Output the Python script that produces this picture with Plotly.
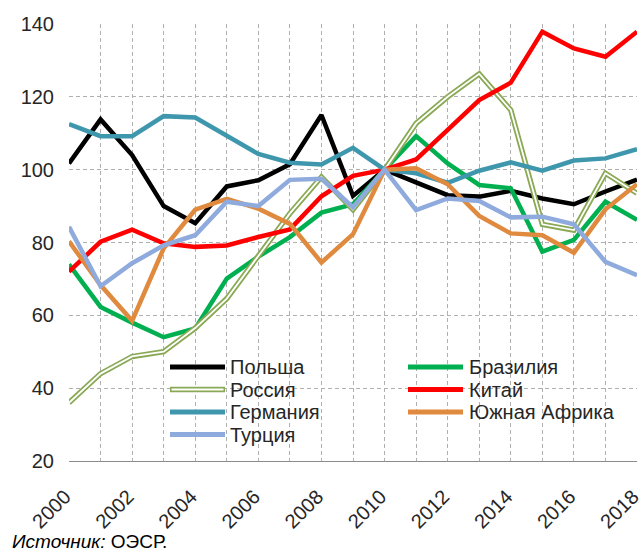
import plotly.graph_objects as go

years = list(range(2000, 2019))

names = ["Польша", "Бразилия", "Россия", "Китай", "Германия", "Южная Африка", "Турция"]

poland = [101.7, 113.8, 104.0, 90.0, 85.3, 95.4, 97.1, 101.5, 115.0, 92.8, 100.0,
          96.4, 93.0, 92.6, 94.2, 92.1, 90.5, 94.0, 97.3]
brazil = [74.0, 62.3, 58.0, 54.0, 56.4, 70.1, 76.1, 81.5, 88.2, 90.5, 100.0,
          109.2, 101.7, 95.8, 94.9, 77.5, 80.7, 91.2, 86.2]
russia = [36.0, 44.0, 48.7, 50.0, 56.5, 64.6, 76.3, 88.0, 98.0, 89.0, 100.0,
          112.7, 120.0, 126.3, 116.4, 85.0, 83.4, 99.0, 93.5]
china = [72.0, 80.2, 83.5, 79.8, 78.8, 79.2, 81.5, 83.6, 92.7, 98.3, 100.0,
         102.8, 110.9, 119.1, 123.9, 137.9, 133.3, 131.0, 137.9]
germany = [112.5, 109.2, 109.2, 114.7, 114.3, 109.3, 104.3, 101.9, 101.4, 106.0, 100.0,
           99.0, 96.4, 99.7, 102.0, 99.7, 102.5, 103.1, 105.6]
safrica = [80.3, 68.3, 58.5, 78.4, 89.0, 92.0, 89.3, 85.1, 74.5, 82.3, 100.0,
           100.4, 96.0, 87.3, 82.5, 82.0, 77.2, 89.1, 96.0]
turkey = [84.3, 68.0, 74.3, 79.2, 82.0, 91.2, 90.0, 97.2, 97.5, 89.7, 100.0,
          88.9, 92.1, 91.4, 86.9, 87.1, 85.0, 74.7, 71.0]

x_ticks = list(range(2000, 2019, 2))
x_ticktext = [str(v) for v in x_ticks]

series = [poland, brazil, russia, china, germany, safrica, turkey]
colors = ["#000000", "#00b050", "#8aa955", "#ff0000", "#3f97ad", "#df8a3e", "#8faadc"]

source_text = "<i>Источник:</i> ОЭСР."

FONT = "Liberation Sans, Arial, sans-serif"
TXT = "#262626"

W, H = 643, 552
L, R, T, B = 69, 6, 24, 91
PW, PH = W - L - R, H - T - B


def px_x(p):
    return (p - L) / PW


def px_y(p):
    return (H - B - p) / PH


fig = go.Figure()
for name, vals, col in zip(names, series, colors):
    if name == "Россия":
        fig.add_trace(go.Scatter(x=years, y=vals, mode="lines", name=name,
                                 line=dict(color=col, width=5.4), showlegend=False,
                                 hoverinfo="skip"))
        fig.add_trace(go.Scatter(x=years, y=vals, mode="lines", name=name,
                                 line=dict(color="#ffffff", width=1.8), showlegend=False))
    else:
        fig.add_trace(go.Scatter(x=years, y=vals, mode="lines", name=name,
                                 line=dict(color=col, width=4.5), showlegend=False))

# manual legend (two columns, row-major)
col_line_x = [(170, 225), (408, 463)]
col_text_x = [228, 467]
row_y = [367, 389.5, 412, 434.5]
shapes = []
annotations = []
for i, (name, col) in enumerate(zip(names, colors)):
    c = i % 2
    r = i // 2
    x0, x1 = col_line_x[c]
    y = row_y[r]
    if name == "Россия":
        shapes.append(dict(type="line", xref="paper", yref="paper",
                           x0=px_x(x0), x1=px_x(x1), y0=px_y(y), y1=px_y(y),
                           line=dict(color=col, width=5.4), layer="above"))
        shapes.append(dict(type="line", xref="paper", yref="paper",
                           x0=px_x(x0 + 1.5), x1=px_x(x1 - 1.5), y0=px_y(y), y1=px_y(y),
                           line=dict(color="#ffffff", width=1.8), layer="above"))
    else:
        shapes.append(dict(type="line", xref="paper", yref="paper",
                           x0=px_x(x0), x1=px_x(x1), y0=px_y(y), y1=px_y(y),
                           line=dict(color=col, width=5), layer="above"))
    annotations.append(dict(text=name, xref="paper", yref="paper",
                            x=px_x(col_text_x[c]), y=px_y(y), xanchor="left",
                            yanchor="middle", showarrow=False,
                            font=dict(family=FONT, size=20, color=TXT)))

annotations.append(dict(text=source_text, xref="paper", yref="paper",
                        x=px_x(10), y=px_y(541), xanchor="left", yanchor="middle",
                        showarrow=False, font=dict(family=FONT, size=19, color="#000000")))

grid_col = "#b0b0b0"
fig.update_layout(
    width=W, height=H,
    margin=dict(l=L, r=R, t=T, b=B, pad=0, autoexpand=False),
    paper_bgcolor="white", plot_bgcolor="white",
    showlegend=False,
    font=dict(family=FONT, size=20, color=TXT),
    shapes=shapes,
    annotations=annotations,
    xaxis=dict(range=[2000, 2018], tickmode="array", tickvals=x_ticks,
               ticktext=x_ticktext, tickangle=-45, automargin=False,
               ticklabeloverflow="allow", ticklabelshift=-4,
               showgrid=True, gridcolor=grid_col, griddash="4px,3px", gridwidth=1,
               minor=dict(dtick=1, tick0=2000, showgrid=True, gridcolor=grid_col,
                          griddash="4px,3px", gridwidth=1),
               showline=True, linecolor="#8c8c8c", linewidth=1.3,
               ticks="", zeroline=False, tickfont=dict(size=20, color=TXT),
               ticklabelstandoff=15),
    yaxis=dict(range=[20, 140], dtick=20, showgrid=True, gridcolor=grid_col,
               griddash="4px,3px", gridwidth=1, zeroline=False, showline=False,
               automargin=False,
               ticks="", tickfont=dict(size=20, color=TXT), ticklabelstandoff=14),
)

fig.write_html("out.html", config={"displayModeBar": False},
               post_script="document.body.style.margin='0px';document.body.style.padding='0px';")
